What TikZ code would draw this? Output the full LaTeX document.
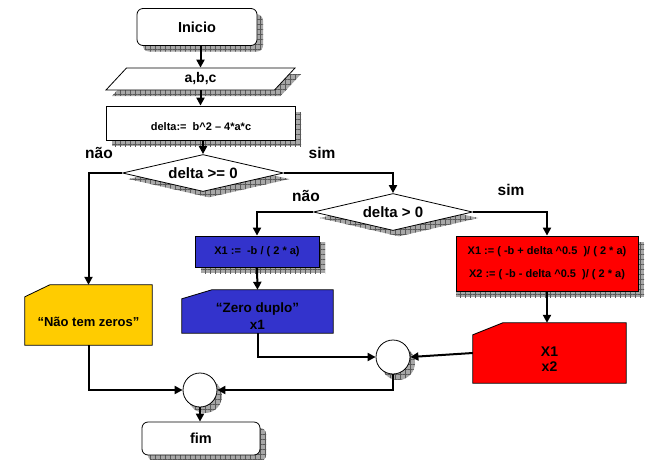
\documentclass[tikz,border=0pt]{standalone}
\usepackage{fontspec}
\setmainfont{Liberation Sans}
\usetikzlibrary{arrows.meta,shapes.geometric,backgrounds,patterns.meta}

\definecolor{cardyellow}{HTML}{FFCC00}
\definecolor{cardblue}{HTML}{3333CC}
\definecolor{cardred}{HTML}{FF0000}
\definecolor{shadowgray}{gray}{0.66}
\definecolor{shadowgrid}{gray}{0.35}

\begin{document}
\begin{tikzpicture}[x=1pt,y=-1pt,
  shadowed/.style={
    preaction={fill=shadowgray,transform canvas={xshift=#1,yshift=-6pt}},
    preaction={pattern={Lines[angle=0,distance=5pt,line width=0.4pt]},pattern color=shadowgrid,
      transform canvas={xshift=#1,yshift=-6pt}},
    preaction={pattern={Lines[angle=90,distance=5pt,line width=0.4pt]},pattern color=shadowgrid,
      transform canvas={xshift=#1,yshift=-6pt}}},
  shadowed/.default=6pt,
  base/.style={draw=black,line width=0.8pt,fill=white,inner sep=0pt},
  terminal/.style={base,shadowed,rectangle,rounded corners=6pt,
    font=\bfseries\fontsize{14.5}{16}\selectfont},
  iobox/.style={base,shadowed,trapezium,trapezium left angle=31,trapezium right angle=149,
    trapezium stretches body,minimum width=189pt,minimum height=22pt,
    font=\bfseries\fontsize{14}{16}\selectfont},
  procbox/.style={base,shadowed,rectangle},
  decision/.style={base,shadowed,diamond,aspect=4.3,font=\bfseries\fontsize{15}{17}\selectfont},
  junction/.style={base,shadowed=5pt,circle,minimum size=34pt},
  cardarea/.style={rectangle,inner sep=0pt},
  cardtext/.style={inner sep=0pt,align=center},
  branch/.style={font=\bfseries\fontsize{15.5}{17}\selectfont},
  flow/.style={line width=2pt,-{Triangle[length=8pt,width=8pt]}}
]
\useasboundingbox (0,0) rectangle (646,459);

% start, input and assignment
\node[terminal,minimum width=120pt,minimum height=37pt] (inicio) at (197,27) {Inicio};
\node[iobox] (abc) at (200.5,79) {a,b,c};
\node[procbox,minimum width=189pt,minimum height=34pt] (delta) at (200.5,123) {};
\node[font=\bfseries\fontsize{11}{13}\selectfont] (deltatxt) at (201,127) {delta:=~~b\textasciicircum 2 – 4*a*c};

% decisions
\node[decision,minimum width=161pt,minimum height=37pt] (d1) at (203,173) {delta >= 0};
\node[decision,minimum width=159pt,minimum height=37pt] (d2) at (393,212) {delta > 0};

% branch labels
\node[branch] (nao1) at (99,153) {não};
\node[branch] (sim1) at (322,153) {sim};
\node[branch] (nao2) at (306,196) {não};
\node[branch] (sim2) at (511,190) {sim};

% single root branch
\node[procbox,fill=cardblue,minimum width=124pt,minimum height=31pt,
  font=\bfseries\fontsize{11}{13}\selectfont] (blue1) at (257,251.5) {X1 :=~~-b / ( 2 * a)};
\node[cardarea,minimum width=151pt,minimum height=43pt] (bluecard) at (257.5,311.5) {};
\node[cardtext,font=\bfseries\fontsize{13.5}{17}\selectfont] (bluetxt)
  at ([yshift=-5pt]bluecard.center) {“Zero duplo”\\x1};

% two roots branch
\node[procbox,shadowed=0pt,fill=cardred,minimum width=182pt,minimum height=55pt,align=center,
  font=\bfseries\fontsize{11}{23}\selectfont] (red1) at (547,263.5)
  {X1 := ( -b + delta \textasciicircum 0.5~~)/ ( 2 * a)\\X2 := ( -b - delta \textasciicircum 0.5~~)/ ( 2 * a)};
\node[cardarea,minimum width=153pt,minimum height=60pt] (redcard) at (549.5,353) {};
\node[cardtext,font=\bfseries\fontsize{14}{15.5}\selectfont] (redtxt)
  at ([yshift=-6pt]redcard.center) {X1\\x2};

% no roots branch
\node[cardarea,minimum width=127pt,minimum height=60pt] (yellow) at (88.5,315) {};
\node[cardtext,font=\bfseries\fontsize{13}{15}\selectfont] (yellowtxt)
  at ([yshift=-6.5pt]yellow.center) {“Não tem zeros”};

% junctions and end
\node[junction] (c1) at (393,357) {};
\node[junction] (c2) at (200,390) {};
\node[terminal,minimum width=118pt,minimum height=33pt] (fim) at (201,438.5) {fim};

% card outlines with the cut top-left corner
\begin{scope}[on background layer]
  \filldraw[fill=cardblue,draw=black,line width=0.8pt]
    (bluecard.south west) -- (bluecard.south east) -- (bluecard.north east)
    -- ([xshift=30pt]bluecard.north west) -- ([yshift=-9pt]bluecard.north west) -- cycle;
  \filldraw[fill=cardred,draw=black,line width=0.8pt]
    (redcard.south west) -- (redcard.south east) -- (redcard.north east)
    -- ([xshift=30pt]redcard.north west) -- ([yshift=-12pt]redcard.north west) -- cycle;
  \filldraw[fill=cardyellow,draw=black,line width=0.8pt]
    (yellow.south west) -- (yellow.south east) -- (yellow.north east)
    -- ([xshift=25pt]yellow.north west) -- ([yshift=-12pt]yellow.north west) -- cycle;
\end{scope}

% connectors
\draw[flow] (abc.north |- inicio.south) -- (abc.north);
\draw[flow] (abc.south) -- (abc.south |- delta.north);
\draw[flow] (d1.north |- delta.south) -- (d1.north);
\draw[flow] (d1.west) -| (yellow.north);
\draw[flow] (d1.east) -| (d2.north);
\draw[flow] (d2.west) -| (blue1.north);
\draw[flow] (d2.east) -| (red1.north);
\draw[flow] (blue1.south) -- (bluecard.north);
\draw[flow] (red1.south) -- (red1.south |- redcard.north);
\draw[flow] (bluecard.south) |- (c1.west);
\draw[flow] (redcard.west) -- (c1.east);
\draw[flow] (c1.south) |- (c2.east);
\draw[flow] (yellow.south) |- (c2.west);
\draw[flow] (c2.south) -- (c2.south |- fim.north);
\end{tikzpicture}
\end{document}
